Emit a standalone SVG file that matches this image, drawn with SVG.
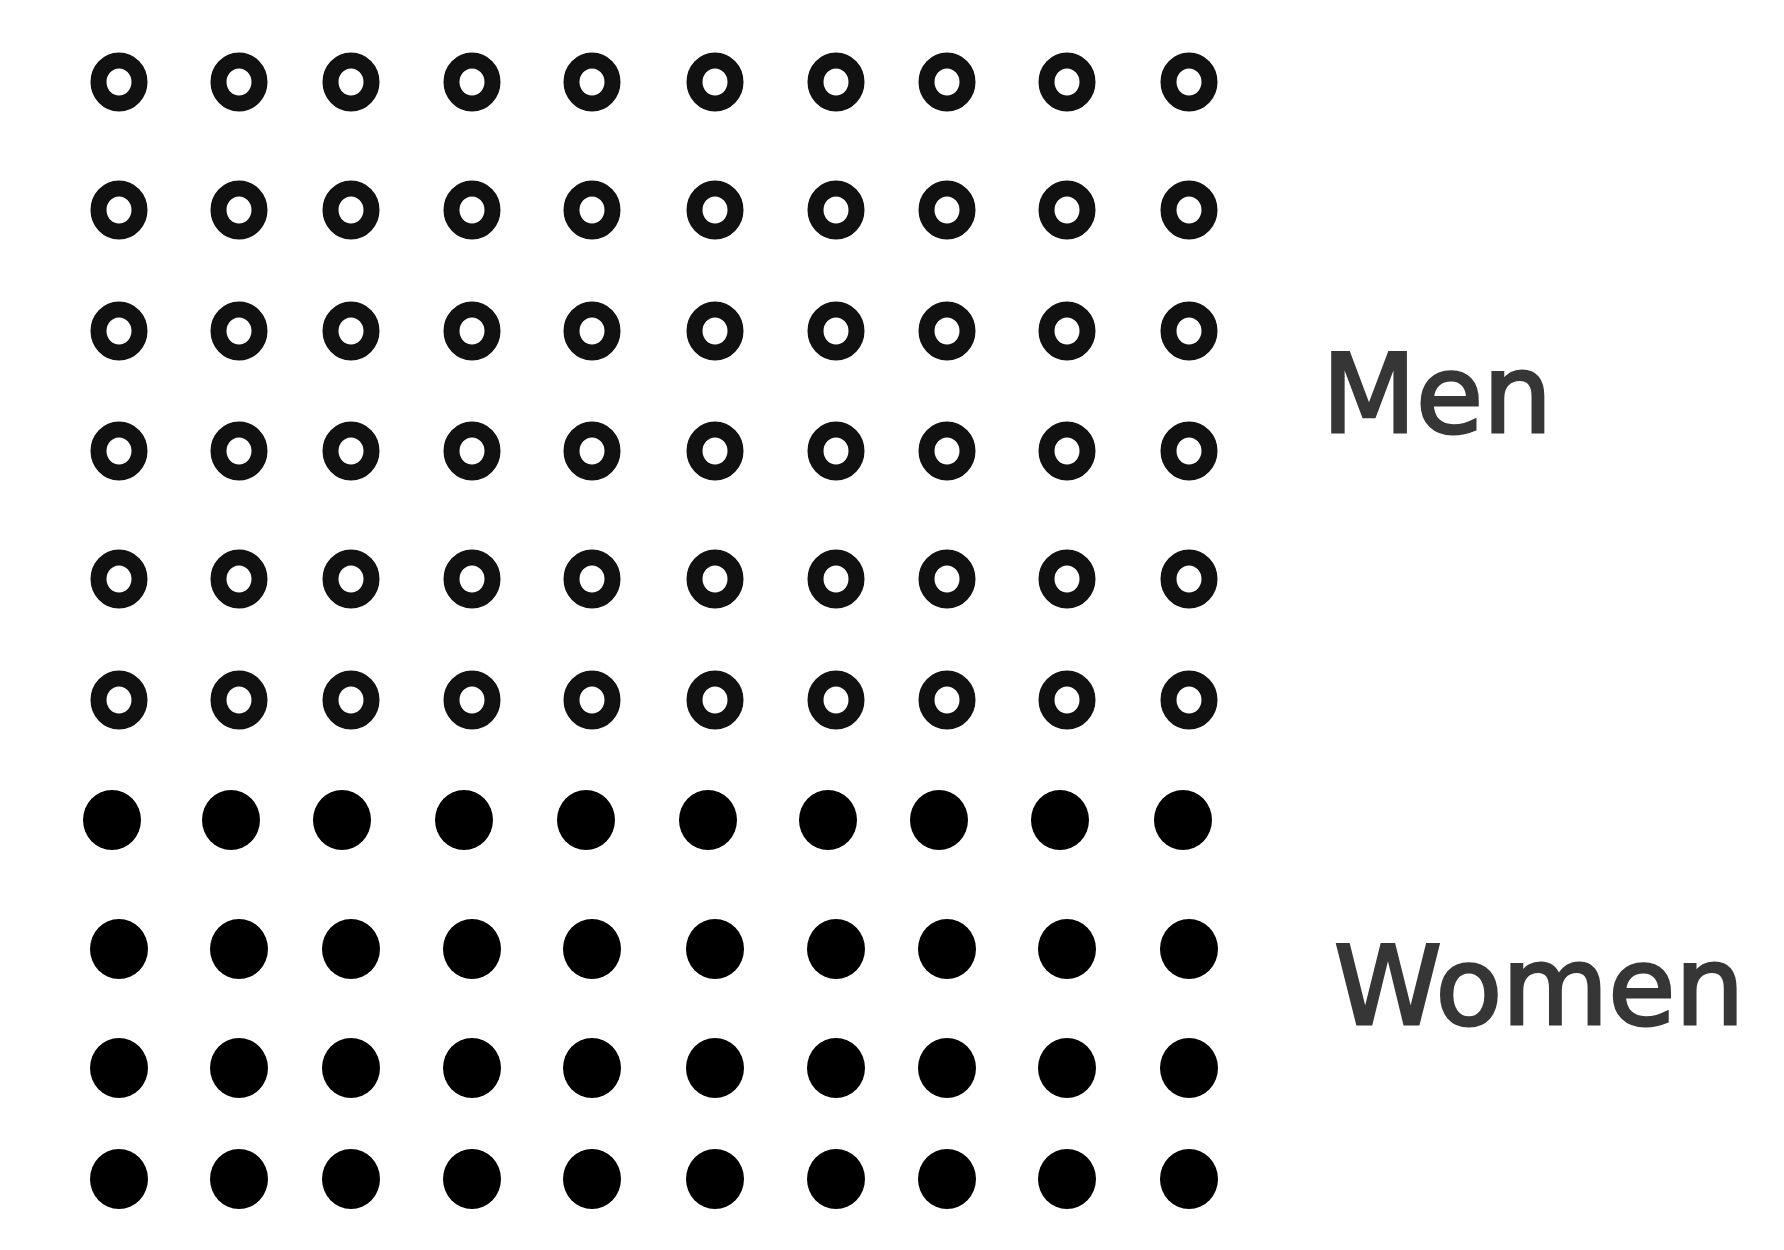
<svg xmlns="http://www.w3.org/2000/svg" xmlns:xlink="http://www.w3.org/1999/xlink" width="1784" height="1250" viewBox="0 0 1784 1250">
<style>
.ring{fill:none;stroke:#111;stroke-width:16}
.dot{fill:#000}
.lbl{font-family:"DejaVu Sans","Liberation Sans",sans-serif;font-size:109px;fill:#363636;stroke:#363636;stroke-width:3}
</style>
<defs>
<ellipse id="r" class="ring" cx="0" cy="0" rx="20.5" ry="21.5"/>
<ellipse id="d" class="dot" cx="0" cy="0" rx="29" ry="30"/>
</defs>
<rect width="1784" height="1250" fill="#fff"/>
<g id="men">
<g id="men-row1" transform="translate(0,82)"><use xlink:href="#r" x="119"/><use xlink:href="#r" x="239"/><use xlink:href="#r" x="351"/><use xlink:href="#r" x="472"/><use xlink:href="#r" x="592"/><use xlink:href="#r" x="715"/><use xlink:href="#r" x="836"/><use xlink:href="#r" x="947"/><use xlink:href="#r" x="1067"/><use xlink:href="#r" x="1189"/></g>
<g id="men-row2" transform="translate(0,210)"><use xlink:href="#r" x="119"/><use xlink:href="#r" x="239"/><use xlink:href="#r" x="351"/><use xlink:href="#r" x="472"/><use xlink:href="#r" x="592"/><use xlink:href="#r" x="715"/><use xlink:href="#r" x="836"/><use xlink:href="#r" x="947"/><use xlink:href="#r" x="1067"/><use xlink:href="#r" x="1189"/></g>
<g id="men-row3" transform="translate(0,331)"><use xlink:href="#r" x="119"/><use xlink:href="#r" x="239"/><use xlink:href="#r" x="351"/><use xlink:href="#r" x="472"/><use xlink:href="#r" x="592"/><use xlink:href="#r" x="715"/><use xlink:href="#r" x="836"/><use xlink:href="#r" x="947"/><use xlink:href="#r" x="1067"/><use xlink:href="#r" x="1189"/></g>
<g id="men-row4" transform="translate(0,451)"><use xlink:href="#r" x="119"/><use xlink:href="#r" x="239"/><use xlink:href="#r" x="351"/><use xlink:href="#r" x="472"/><use xlink:href="#r" x="592"/><use xlink:href="#r" x="715"/><use xlink:href="#r" x="836"/><use xlink:href="#r" x="947"/><use xlink:href="#r" x="1067"/><use xlink:href="#r" x="1189"/></g>
<g id="men-row5" transform="translate(0,579)"><use xlink:href="#r" x="119"/><use xlink:href="#r" x="239"/><use xlink:href="#r" x="351"/><use xlink:href="#r" x="472"/><use xlink:href="#r" x="592"/><use xlink:href="#r" x="715"/><use xlink:href="#r" x="836"/><use xlink:href="#r" x="947"/><use xlink:href="#r" x="1067"/><use xlink:href="#r" x="1189"/></g>
<g id="men-row6" transform="translate(0,700)"><use xlink:href="#r" x="119"/><use xlink:href="#r" x="239"/><use xlink:href="#r" x="351"/><use xlink:href="#r" x="472"/><use xlink:href="#r" x="592"/><use xlink:href="#r" x="715"/><use xlink:href="#r" x="836"/><use xlink:href="#r" x="947"/><use xlink:href="#r" x="1067"/><use xlink:href="#r" x="1189"/></g>
</g>
<g id="women">
<g id="women-row1" transform="translate(0,820)"><use xlink:href="#d" x="112"/><use xlink:href="#d" x="231"/><use xlink:href="#d" x="342"/><use xlink:href="#d" x="464"/><use xlink:href="#d" x="586"/><use xlink:href="#d" x="708"/><use xlink:href="#d" x="828"/><use xlink:href="#d" x="939"/><use xlink:href="#d" x="1060"/><use xlink:href="#d" x="1183"/></g>
<g id="women-row2" transform="translate(0,949)"><use xlink:href="#d" x="119"/><use xlink:href="#d" x="239"/><use xlink:href="#d" x="351"/><use xlink:href="#d" x="472"/><use xlink:href="#d" x="592"/><use xlink:href="#d" x="715"/><use xlink:href="#d" x="836"/><use xlink:href="#d" x="947"/><use xlink:href="#d" x="1067"/><use xlink:href="#d" x="1189"/></g>
<g id="women-row3" transform="translate(0,1068)"><use xlink:href="#d" x="119"/><use xlink:href="#d" x="239"/><use xlink:href="#d" x="351"/><use xlink:href="#d" x="472"/><use xlink:href="#d" x="592"/><use xlink:href="#d" x="715"/><use xlink:href="#d" x="836"/><use xlink:href="#d" x="947"/><use xlink:href="#d" x="1067"/><use xlink:href="#d" x="1189"/></g>
<g id="women-row4" transform="translate(0,1179)"><use xlink:href="#d" x="119"/><use xlink:href="#d" x="239"/><use xlink:href="#d" x="351"/><use xlink:href="#d" x="472"/><use xlink:href="#d" x="592"/><use xlink:href="#d" x="715"/><use xlink:href="#d" x="836"/><use xlink:href="#d" x="947"/><use xlink:href="#d" x="1067"/><use xlink:href="#d" x="1189"/></g>
</g>
<g id="label-men"><text class="lbl" x="1322" y="432">Men</text></g>
<g id="label-women"><text class="lbl" x="1334" y="1024">Women</text></g>
<g id="connectors"/>
</svg>
